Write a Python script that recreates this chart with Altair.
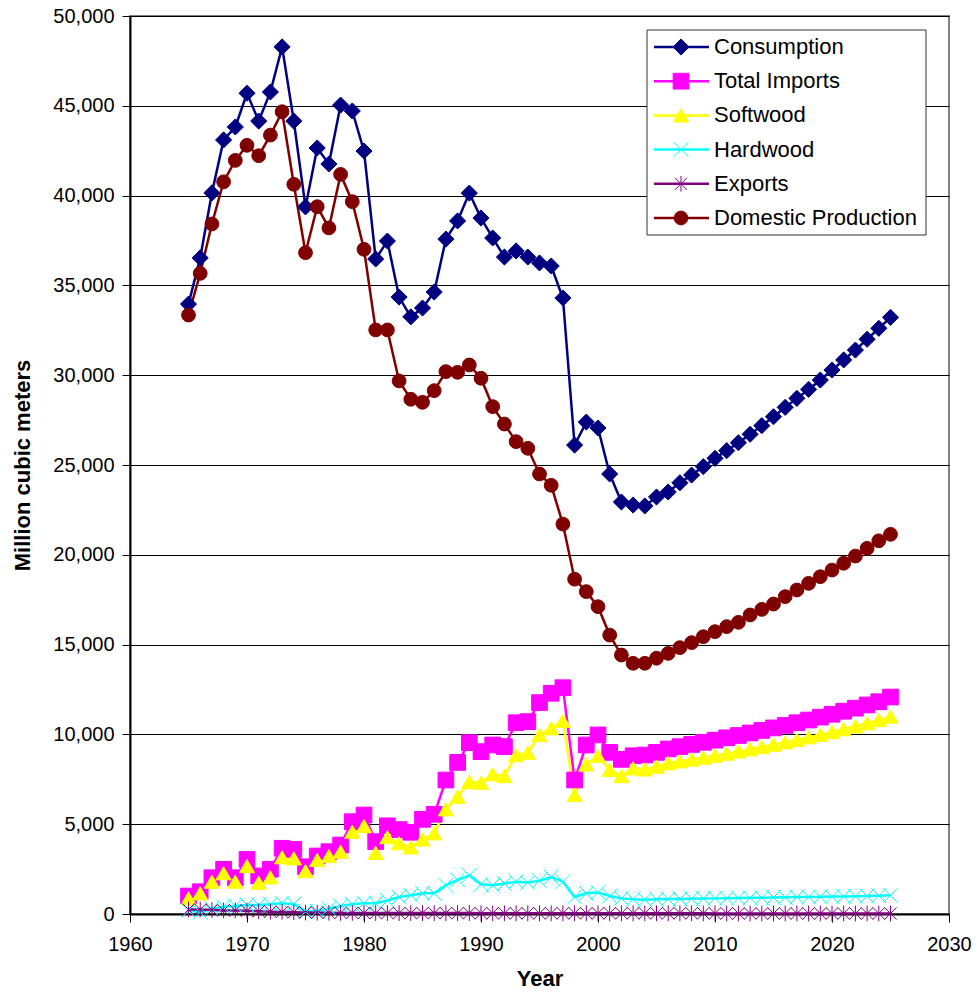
import altair as alt
import pandas as pd

years = list(range(1965, 2026))

series_names = ["Consumption", "Total Imports", "Softwood", "Hardwood", "Exports", "Domestic Production"]
series_colors = ["#000080", "#FF00FF", "#FFFF00", "#00FFFF", "#800080", "#800000"]

consumption = [
    33960, 36530, 40150, 43100, 43820, 45700, 44150, 45770, 48280, 44150,
    39370, 42650, 41760, 45040, 44710, 42480, 36470, 37470, 34350, 33250,
    33740, 34630, 37580, 38590, 40140, 38750, 37640, 36580, 36920, 36580,
    36250, 36080, 34300, 26110, 27390, 27060, 24500, 22940, 22770, 22720,
    23220, 23500, 24010, 24440, 24910, 25370, 25800, 26240, 26710, 27190,
    27690, 28210, 28710, 29210, 29730, 30290, 30850, 31400, 32000, 32610,
    33220,
]
total_imports = [
    1000, 1240, 2020, 2490, 2020, 3040, 2120, 2490, 3660, 3600,
    2630, 3230, 3470, 3840, 5140, 5510, 4030, 4910, 4700, 4550,
    5270, 5550, 7460, 8440, 9540, 9040, 9410, 9320, 10650, 10710,
    11770, 12290, 12600, 7460, 9410, 9970, 9000, 8610, 8810, 8850,
    9000, 9190, 9320, 9440, 9560, 9680, 9810, 9940, 10080, 10220,
    10360, 10500, 10650, 10800, 10960, 11120, 11290, 11460, 11640, 11820,
    12080,
]
softwood = [
    870, 1150, 1800, 2270, 1800, 2670, 1740, 2040, 3160, 3100,
    2390, 3010, 3230, 3470, 4580, 4900, 3410, 4280, 3940, 3710,
    4150, 4490, 5830, 6530, 7360, 7310, 7780, 7680, 8850, 8980,
    9970, 10340, 10760, 6630, 8330, 8800, 8020, 7680, 8110, 8050,
    8200, 8390, 8500, 8600, 8710, 8820, 8930, 9050, 9170, 9300,
    9430, 9560, 9700, 9840, 9980, 10130, 10290, 10450, 10620, 10800,
    10990,
]
hardwood = [
    200, 100, 300, 400, 450, 500, 500, 550, 600, 550,
    150, 150, 300, 450, 550, 600, 600, 750, 950, 1050,
    1150, 1150, 1600, 1900, 2150, 1650, 1600, 1700, 1800, 1750,
    1850, 2050, 1800, 950, 1150, 1200, 1000, 870, 820, 800,
    820, 830, 840, 850, 860, 870, 880, 890, 900, 910,
    920, 930, 940, 950, 960, 970, 980, 990, 1000, 1020,
    1040,
]
exports = [
    250, 250, 220, 200, 200, 180, 150, 130, 120, 100,
    80, 70, 70, 60, 60, 60, 50, 50, 50, 50,
    50, 50, 50, 50, 50, 40, 40, 40, 40, 40,
    40, 40, 40, 40, 40, 40, 40, 40, 40, 40,
    40, 40, 40, 40, 40, 30, 30, 30, 30, 30,
    30, 30, 30, 30, 30, 30, 30, 30, 30, 30,
    30,
]
domestic = [
    33350, 35670, 38420, 40770, 41960, 42800, 42220, 43370, 44670, 40630,
    36820, 39380, 38200, 41180, 39660, 37010, 32520, 32520, 29680, 28660,
    28490, 29140, 30200, 30160, 30570, 29830, 28250, 27280, 26300, 25930,
    24500, 23870, 21710, 18640, 17950, 17110, 15530, 14420, 13960, 13960,
    14240, 14510, 14830, 15110, 15440, 15720, 16000, 16240, 16650, 16960,
    17260, 17670, 18040, 18410, 18780, 19150, 19530, 19930, 20360, 20780,
    21140,
]

all_values = [consumption, total_imports, softwood, hardwood, exports, domestic]

rows = []
for k, (name, vals) in enumerate(zip(series_names, all_values)):
    assert len(vals) == len(years)
    for yr, v in zip(years, vals):
        rows.append({"year": yr, "value": v, "series": name, "k": k})
df = pd.DataFrame(rows)

legend_df = pd.DataFrame({"series": series_names, "i": list(range(len(series_names)))})

FONT = "Liberation Sans"

x_path = "M-1,-1L1,1M-1,1L1,-1"
star_path = "M-0.85,-0.85L0.85,0.85M-0.85,0.85L0.85,-0.85M0,-1.1L0,1.1"

color_scale = alt.Scale(domain=series_names, range=series_colors)
shape_scale = alt.Scale(domain=series_names,
                        range=["diamond", "square", "triangle-up", x_path, star_path, "circle"])
size_scale = alt.Scale(domain=series_names, range=[260, 190, 250, 190, 180, 270])
sw_scale = alt.Scale(domain=series_names, range=[1, 1, 1, 2.5, 2.5, 1])

x_enc = alt.X("year:Q", scale=alt.Scale(domain=[1960, 2030], nice=False),
              axis=alt.Axis(values=list(range(1960, 2031, 10)), format="d", title="Year",
                            grid=False, tickSize=8, labelPadding=12, labelFlush=False,
                            titleY=71, titleBaseline="alphabetic"))
y_enc = alt.Y("value:Q", scale=alt.Scale(domain=[0, 50000], nice=False),
              axis=alt.Axis(values=list(range(0, 50001, 5000)), format=",d",
                            title="Million cubic meters", grid=True, tickSize=8,
                            labelPadding=8, labelFlush=False, titleX=-108, titleY=449,
                            titleAngle=-90, titleAlign="center", titleBaseline="middle"))

lines = alt.Chart(df).mark_line(strokeWidth=2.5).encode(
    x=x_enc, y=y_enc,
    color=alt.Color("series:N", scale=color_scale, legend=None),
    order=alt.Order("year:Q"),
)

points = alt.Chart(df).mark_point(filled=True, opacity=1).encode(
    x="year:Q", y="value:Q",
    color=alt.Color("series:N", scale=color_scale, legend=None),
    stroke=alt.Stroke("series:N", scale=color_scale, legend=None),
    shape=alt.Shape("series:N", scale=shape_scale, legend=None),
    size=alt.Size("series:N", scale=size_scale, legend=None),
    strokeWidth=alt.StrokeWidth("series:N", scale=sw_scale, legend=None),
    order=alt.Order("k:Q"),
)

ly = alt.Y("ly:Q", scale=None, axis=None)

legend_box = alt.Chart(pd.DataFrame({"a": [0]})).mark_rect(
    fill="white", stroke="#333333", strokeWidth=1
).encode(x=alt.value(517), x2=alt.value(796), y=alt.value(14), y2=alt.value(219))

legend_base = alt.Chart(legend_df).transform_calculate(ly="31 + datum.i * 34.2")

legend_lines = legend_base.mark_rule(strokeWidth=2.5).encode(
    x=alt.value(524), x2=alt.value(579), y=ly,
    color=alt.Color("series:N", scale=color_scale, legend=None),
)
legend_points = legend_base.mark_point(filled=True, opacity=1).encode(
    x=alt.value(551), y=ly,
    color=alt.Color("series:N", scale=color_scale, legend=None),
    stroke=alt.Stroke("series:N", scale=color_scale, legend=None),
    shape=alt.Shape("series:N", scale=shape_scale, legend=None),
    size=alt.Size("series:N", scale=size_scale, legend=None),
    strokeWidth=alt.StrokeWidth("series:N", scale=sw_scale, legend=None),
)
legend_text = legend_base.mark_text(align="left", baseline="middle", fontSize=22,
                                    font=FONT, color="black").encode(
    x=alt.value(584), y=ly, text="series:N",
)

chart = alt.layer(
    lines, points, legend_box, legend_lines, legend_points, legend_text
).properties(
    width=819, height=898,
    padding={"left": 122, "top": 8, "right": 22, "bottom": 77},
    autosize="none",
).configure_view(
    stroke="#808080", strokeWidth=2,
).configure_axis(
    labelFont=FONT, titleFont=FONT, labelFontSize=20, titleFontSize=22,
    labelColor="black", titleColor="black", titleFontWeight="bold",
    domainColor="black", domainWidth=2, tickColor="black", tickWidth=1,
    gridColor="black", gridWidth=1,
)

chart.save("out.html", embed_options={"renderer": "svg", "actions": False})
